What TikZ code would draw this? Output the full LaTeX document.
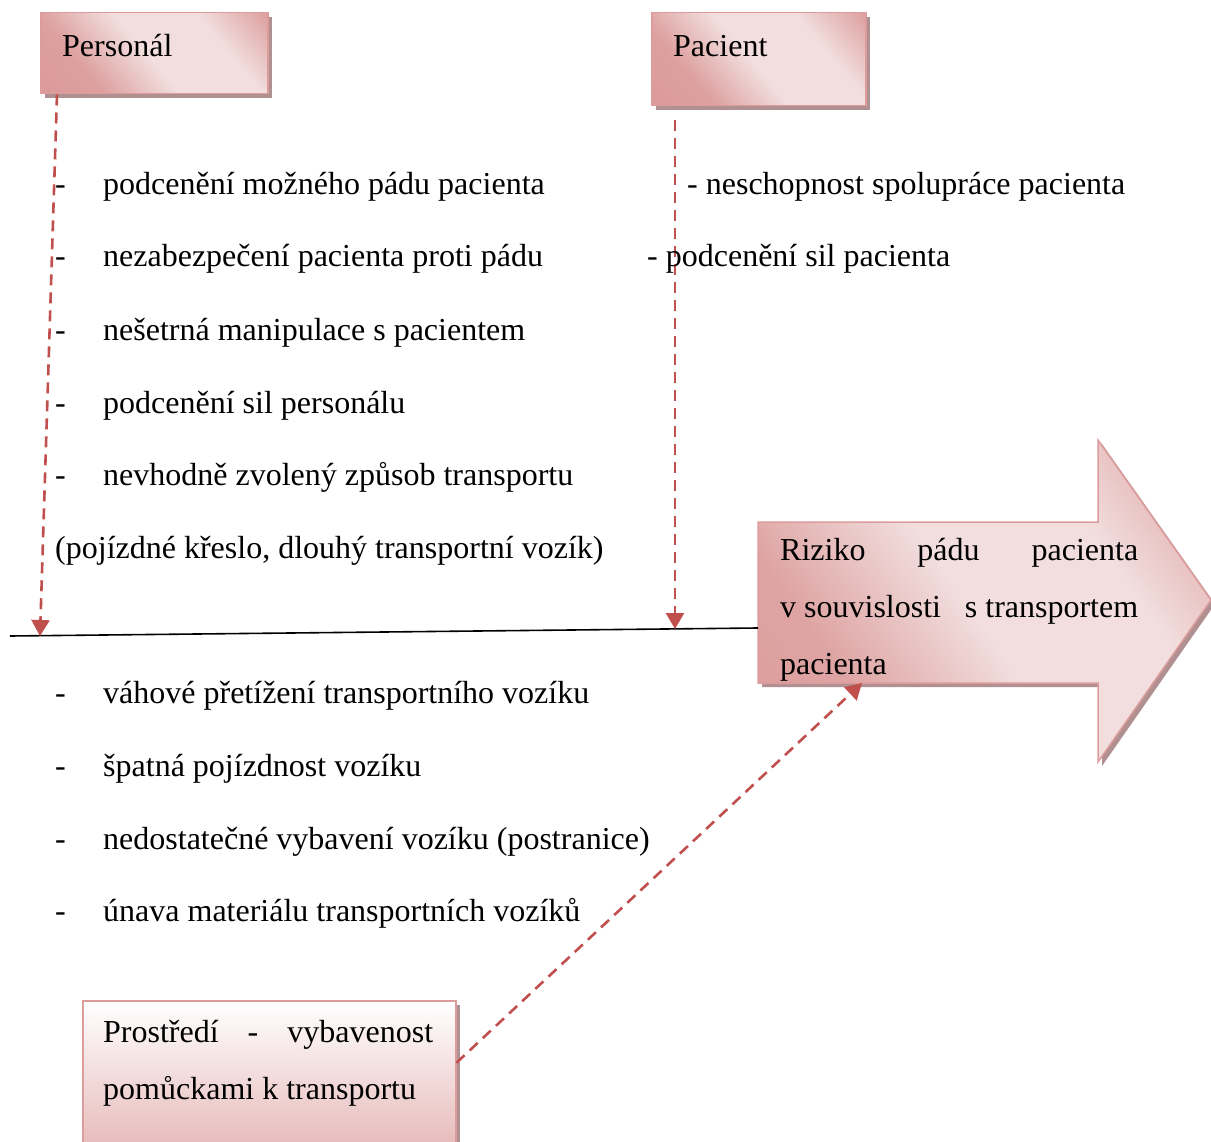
\documentclass[tikz,border=0pt]{standalone}
\usepackage{fontspec}
\setmainfont{Liberation Serif}
\usetikzlibrary{arrows.meta,calc,shadows}
\definecolor{rosedark}{HTML}{D99594}
\definecolor{roselight}{HTML}{F2DEDE}
\definecolor{roseedge}{HTML}{DC9C9B}
\definecolor{roseshadow}{HTML}{B09090}
\definecolor{causered}{HTML}{C0504D}
% diagonal band shadings: dark ends, light middle
\pgfdeclarehorizontalshading{roseband}{100bp}{color(0bp)=(rosedark); color(30bp)=(rosedark!85!roselight); color(48bp)=(roselight); color(68bp)=(roselight); color(84bp)=(rosedark!80!roselight); color(100bp)=(rosedark)}
\pgfdeclarehorizontalshading{roseflow}{100bp}{color(0bp)=(rosedark); color(30bp)=(rosedark!80!roselight); color(48bp)=(roselight); color(66bp)=(roselight); color(80bp)=(rosedark!70!roselight); color(100bp)=(rosedark)}
\begin{document}
\begin{tikzpicture}[x=1pt,y=-1pt,
  every node/.style={font=\fontsize{32}{38}\selectfont, inner sep=0pt},
  catbox/.style={draw=roseedge, line width=1.5pt, anchor=north west,
    shading=roseband, shading angle=40,
    drop shadow={shadow xshift=4pt, shadow yshift=-4pt, opacity=1, fill=roseshadow}},
  envbox/.style={draw=roseedge, line width=1.5pt, anchor=north west,
    top color=white, bottom color=rosedark!75!white,
    drop shadow={shadow xshift=4pt, shadow yshift=-4pt, opacity=1, fill=roseshadow}},
  cause/.style={draw=causered, line width=2.6pt, dash pattern=on 11pt off 7pt,
    -{Triangle[length=16pt,width=18pt]}},
  item/.style={anchor=base west},
  spine/.style={draw=black, line width=1.6pt}
]
\useasboundingbox (0,0) rectangle (1211,1142);

% category boxes
\node[catbox, minimum width=227pt, minimum height=81pt] (pers) at (40,12) {};
\node[item] (perslbl) at (62,57) {Personál};
\node[catbox, minimum width=214pt, minimum height=93pt] (pac) at (651,12) {};
\node[item] (paclbl) at (673,57) {Pacient};
\node[envbox, minimum width=373pt, minimum height=170pt] (env) at (82,1000) {};
\node[anchor=base west] (envl1) at (103,1042) {\makebox[330pt][s]{Prostředí\hfill-\hfill vybavenost}};
\node[anchor=base west] (envl2) at (103,1099) {pomůckami k transportu};

% effect arrow
\fill[roseshadow] (762,526) -- (1102,526) -- (1102,444) -- (1215,604) -- (1102,766) -- (1102,687) -- (762,687) -- cycle;
\path[draw=roseedge, line width=1.5pt, shading=roseflow, shading angle=35]
  (758,522) coordinate (effnw) -- (1098,522) -- (1098,440) -- (1211,600) coordinate (efftip)
  -- (1098,762) -- (1098,683) -- (862,683) coordinate (effbot) -- (758,683) -- cycle;
\coordinate (effw) at (758,628);
\node[anchor=base west] (eff1) at (780,560) {\makebox[358pt][s]{Riziko\hfill pádu\hfill pacienta}};
\node[anchor=base west] (eff2) at (780,617) {\makebox[358pt][s]{v souvislosti\hfill s transportem}};
\node[anchor=base west] (eff3) at (780,674) {pacienta};

% spine
\coordinate (spinel) at (10,636);
\draw[spine] (spinel) -- (effw);

% cause connectors
\coordinate (perss) at ($(pers.south west)+(17,0)$);
\coordinate (persend) at (40,636);
\coordinate (pacs) at (675,120);
\coordinate (pacend) at (675,629);
\coordinate (envs) at ($(env.east)+(0,-23)$);
\draw[cause] (perss) -- (persend);
\draw[cause] (pacs) -- (pacend);
\draw[cause] (envs) -- (effbot);

% staff causes
\node[item] (d1) at (55,195) {-};
\node[item] (t1) at (103,195) {podcenění možného pádu pacienta};
\node[item] (d2) at (55,267) {-};
\node[item] (t2) at (103,267) {nezabezpečení pacienta proti pádu};
\node[item] (d3) at (55,340) {-};
\node[item] (t3) at (103,340) {nešetrná manipulace s pacientem};
\node[item] (d4) at (55,413) {-};
\node[item] (t4) at (103,413) {podcenění sil personálu};
\node[item] (d5) at (55,485) {-};
\node[item] (t5) at (103,485) {nevhodně zvolený způsob transportu};
\node[item] (t6) at (55,558) {(pojízdné křeslo, dlouhý transportní vozík)};

% patient causes
\node[item] (p1) at (687,195) {- neschopnost spolupráce pacienta};
\node[item] (p2) at (647,267) {- podcenění sil pacienta};

% equipment causes
\node[item] (e1d) at (55,703) {-};
\node[item] (e1) at (103,703) {váhové přetížení transportního vozíku};
\node[item] (e2d) at (55,776) {-};
\node[item] (e2) at (103,776) {špatná pojízdnost vozíku};
\node[item] (e3d) at (55,849) {-};
\node[item] (e3) at (103,849) {nedostatečné vybavení vozíku (postranice)};
\node[item] (e4d) at (55,921) {-};
\node[item] (e4) at (103,921) {únava materiálu transportních vozíků};
\end{tikzpicture}
\end{document}
